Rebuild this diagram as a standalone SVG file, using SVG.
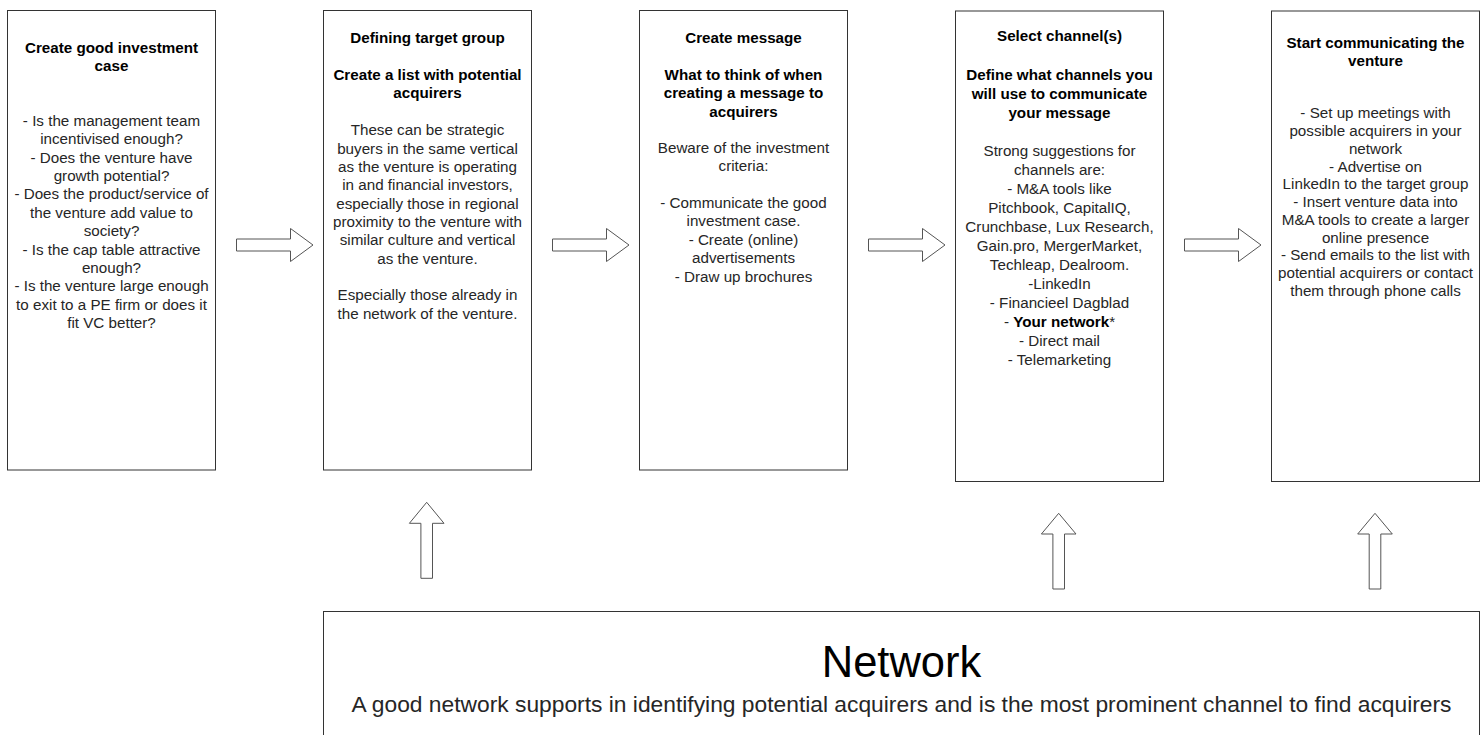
<svg xmlns="http://www.w3.org/2000/svg" width="1484" height="735" viewBox="0 0 1484 735">
<style>
.box{fill:#fff;stroke:#333;stroke-width:1}
.arr{fill:#fff;stroke:#555;stroke-width:1}
text{font-family:"Liberation Sans",Arial,Helvetica,sans-serif;text-anchor:middle}
.t{font-size:15.2px;font-weight:bold;fill:#000}
.b{font-size:15.2px;fill:#262626}
.bb{font-weight:bold;fill:#000}
.big{font-size:43.5px;fill:#000}
.sub{font-size:22.8px;fill:#262626}
</style>
<rect width="1484" height="735" fill="#fff"/>

<g id="node-investment-case">
<rect class="box" x="7.5" y="10.5" width="208" height="459.5"/>
<text class="t" x="111.5" y="52.5">Create good investment</text>
<text class="t" x="111.5" y="71">case</text>
<text class="b" x="111.5" y="126">- Is the management team</text>
<text class="b" x="111.5" y="144.4">incentivised enough?</text>
<text class="b" x="111.5" y="162.7">- Does the venture have</text>
<text class="b" x="111.5" y="181.1">growth potential?</text>
<text class="b" x="111.5" y="199.4">- Does the product/service of</text>
<text class="b" x="111.5" y="217.8">the venture add value to</text>
<text class="b" x="111.5" y="236.2">society?</text>
<text class="b" x="111.5" y="254.5">- Is the cap table attractive</text>
<text class="b" x="111.5" y="272.9">enough?</text>
<text class="b" x="111.5" y="291.2">- Is the venture large enough</text>
<text class="b" x="111.5" y="309.6">to exit to a PE firm or does it</text>
<text class="b" x="111.5" y="328">fit VC better?</text>
</g>

<g id="node-target-group">
<rect class="box" x="323.5" y="10.5" width="208" height="459.5"/>
<text class="t" x="427.5" y="42.7">Defining target group</text>
<text class="t" x="427.5" y="80">Create a list with potential</text>
<text class="t" x="427.5" y="98.3">acquirers</text>
<text class="b" x="427.5" y="135.3">These can be strategic</text>
<text class="b" x="427.5" y="153.6">buyers in the same vertical</text>
<text class="b" x="427.5" y="172">as the venture is operating</text>
<text class="b" x="427.5" y="190.3">in and financial investors,</text>
<text class="b" x="427.5" y="208.6">especially those in regional</text>
<text class="b" x="427.5" y="227">proximity to the venture with</text>
<text class="b" x="427.5" y="245.3">similar culture and vertical</text>
<text class="b" x="427.5" y="263.6">as the venture.</text>
<text class="b" x="427.5" y="300.3">Especially those already in</text>
<text class="b" x="427.5" y="318.6">the network of the venture.</text>
</g>

<g id="node-message">
<rect class="box" x="639.5" y="10.5" width="208" height="459.5"/>
<text class="t" x="743.5" y="42.7">Create message</text>
<text class="t" x="743.5" y="80">What to think of when</text>
<text class="t" x="743.5" y="98.3">creating a message to</text>
<text class="t" x="743.5" y="116.7">acquirers</text>
<text class="b" x="743.5" y="152.7">Beware of the investment</text>
<text class="b" x="743.5" y="171.1">criteria:</text>
<text class="b" x="743.5" y="207.9">- Communicate the good</text>
<text class="b" x="743.5" y="226.3">investment case.</text>
<text class="b" x="743.5" y="244.7">- Create (online)</text>
<text class="b" x="743.5" y="263.1">advertisements</text>
<text class="b" x="743.5" y="281.5">- Draw up brochures</text>
</g>

<g id="node-channels">
<rect class="box" x="955.5" y="11" width="208" height="470.5"/>
<text class="t" x="1059.5" y="41.3">Select channel(s)</text>
<text class="t" x="1059.5" y="80.1">Define what channels you</text>
<text class="t" x="1059.5" y="99">will use to communicate</text>
<text class="t" x="1059.5" y="118">your message</text>
<text class="b" x="1059.5" y="156.4">Strong suggestions for</text>
<text class="b" x="1059.5" y="175.4">channels are:</text>
<text class="b" x="1059.5" y="194.4">- M&amp;A tools like</text>
<text class="b" x="1059.5" y="213.3">Pitchbook, CapitalIQ,</text>
<text class="b" x="1059.5" y="232.3">Crunchbase, Lux Research,</text>
<text class="b" x="1059.5" y="251.3">Gain.pro, MergerMarket,</text>
<text class="b" x="1059.5" y="270.3">Techleap, Dealroom.</text>
<text class="b" x="1059.5" y="289.3">-LinkedIn</text>
<text class="b" x="1059.5" y="308.2">- Financieel Dagblad</text>
<text class="b" x="1059.5" y="327.2">- <tspan class="bb">Your network</tspan>*</text>
<text class="b" x="1059.5" y="346.2">- Direct mail</text>
<text class="b" x="1059.5" y="365.2">- Telemarketing</text>
</g>

<g id="node-communicating">
<rect class="box" x="1271.5" y="11" width="208" height="470.5"/>
<text class="t" x="1375.5" y="48.2">Start communicating the</text>
<text class="t" x="1375.5" y="65.5">venture</text>
<text class="b" x="1375.5" y="118.3">- Set up meetings with</text>
<text class="b" x="1375.5" y="136.1">possible acquirers in your</text>
<text class="b" x="1375.5" y="153.8">network</text>
<text class="b" x="1375.5" y="171.6">- Advertise on</text>
<text class="b" x="1375.5" y="189.3">LinkedIn to the target group</text>
<text class="b" x="1375.5" y="207.1">- Insert venture data into</text>
<text class="b" x="1375.5" y="224.9">M&amp;A tools to create a larger</text>
<text class="b" x="1375.5" y="242.6">online presence</text>
<text class="b" x="1375.5" y="260.4">- Send emails to the list with</text>
<text class="b" x="1375.5" y="278.1">potential acquirers or contact</text>
<text class="b" x="1375.5" y="295.9">them through phone calls</text>
</g>

<g id="node-network">
<rect class="box" x="323.5" y="611.5" width="1156" height="140"/>
<text class="big" x="901.5" y="676.7">Network</text>
<text class="sub" x="901.5" y="711.7">A good network supports in identifying potential acquirers and is the most prominent channel to find acquirers</text>
</g>

<g id="connectors">
<path class="arr" d="M236.5,239 H290.5 V228.5 L313,245 L290.5,261.5 V251 H236.5 Z"/>
<path class="arr" d="M552.5,239 H606.5 V228.5 L629,245 L606.5,261.5 V251 H552.5 Z"/>
<path class="arr" d="M868.5,239 H922.5 V228.5 L945,245 L922.5,261.5 V251 H868.5 Z"/>
<path class="arr" d="M1184.5,239 H1238.5 V228.5 L1261,245 L1238.5,261.5 V251 H1184.5 Z"/>
<path class="arr" d="M426.7,502.3 L444,523.3 H432.5 V578.3 H420.9 V523.3 H409.4 Z"/>
<path class="arr" d="M1058.7,513.3 L1076,534 H1064.5 V589 H1052.9 V534 H1041.4 Z"/>
<path class="arr" d="M1375,513.3 L1392.3,534 H1380.8 V589 H1369.2 V534 H1357.7 Z"/>
</g>
</svg>
